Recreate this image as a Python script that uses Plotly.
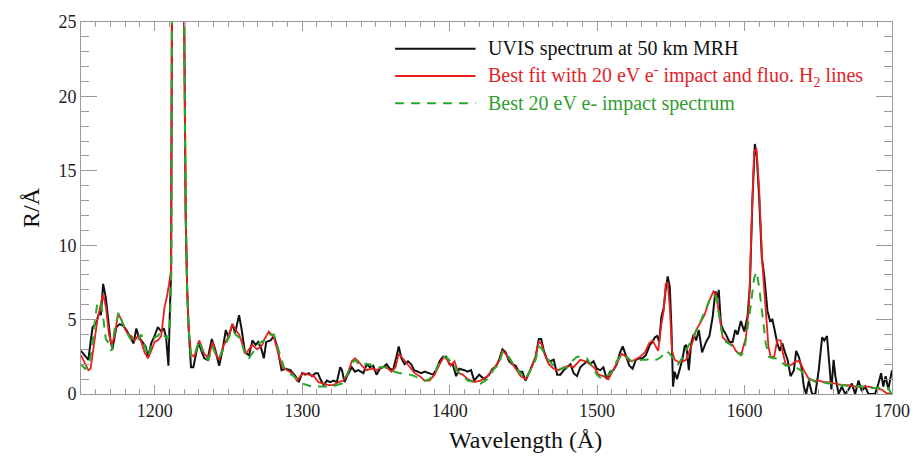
import plotly.graph_objects as go

# ---------------- data ----------------
uvis_wl = [1150, 1152.7, 1155, 1156.5, 1157.9, 1160, 1162.4, 1163.5, 1165, 1166.8, 1168.4, 1170, 1171.3, 1174,
           1176.3, 1178.5, 1180.8, 1183, 1185.7, 1187.5, 1189.3, 1191.6, 1193.8, 1195.6, 1197.6, 1199.9, 1202.1,
           1204.4, 1206.2, 1207.7, 1209.3, 1210.4, 1211.1, 1211.8, 1215.7, 1219.6, 1221, 1222, 1223, 1224.6,
           1226.2, 1228, 1229.8, 1231.3, 1233.6, 1235.8, 1238.7, 1241, 1243.7, 1245.9, 1248.2, 1250, 1252.7,
           1254.5, 1257.2, 1259, 1261.2, 1264, 1266.2, 1268.4, 1270.2, 1272.4, 1274, 1275.6, 1278.6, 1280.8,
           1283, 1286, 1288.7, 1292, 1295.4, 1297.7, 1300, 1302.2, 1304.4, 1306.7, 1308.9, 1310.7, 1312.3,
           1314.6, 1316.8, 1319, 1321.3, 1323.5, 1325.8, 1327, 1328.7, 1330.9, 1333.6, 1335.8, 1338.1, 1341.5,
           1343.7, 1346, 1348.2, 1350.4, 1352.7, 1354.9, 1357.2, 1359.4, 1361.6, 1363.9, 1365.5, 1367.3, 1369.5,
           1371.8, 1374, 1375.9, 1378.1, 1380.8, 1383, 1385.7, 1388.7, 1390.9, 1393.2, 1395.4, 1397.7, 1399.9,
           1402.1, 1404.4, 1406.6, 1410, 1412.2, 1414.5, 1416.7, 1420, 1423.4, 1426.8, 1429, 1431.3, 1433.5,
           1435.8, 1438, 1440.3, 1442.5, 1444.8, 1447, 1449.3, 1451.5, 1453.8, 1456, 1458.3, 1460.5, 1462.1,
           1463.9, 1466.1, 1468.4, 1470.6, 1472.9, 1475.1, 1477.4, 1479.6, 1481.9, 1484.1, 1486.4, 1488.6,
           1490.8, 1493.1, 1495.3, 1497.6, 1499.8, 1502.1, 1504.3, 1506.5, 1508.8, 1511, 1513.3, 1515.6, 1517.4,
           1519.6, 1521.9, 1524.1, 1526.3, 1528.6, 1530.8, 1533, 1534.6, 1535.8, 1537.6, 1539.1, 1540.7, 1542.1,
           1543.6, 1545.2, 1546.5, 1547.9, 1549.3, 1550.4, 1551.5, 1552.6, 1554.2, 1556, 1557.8, 1559.4, 1560.5,
           1562.2, 1563.8, 1565.4, 1567.2, 1569, 1571.2, 1573.9, 1576.2, 1578.4, 1580.2, 1581.8, 1582.5, 1584,
           1585.6, 1587.4, 1589.7, 1591.9, 1593.7, 1595.3, 1597.5, 1599.8, 1602, 1603.6, 1605.4, 1607, 1608.3,
           1609.9, 1611.7, 1613.5, 1615.5, 1617.3, 1618.9, 1620.4, 1622.2, 1624, 1625.6, 1627.4, 1629.2, 1631.2,
           1633.5, 1635, 1636.8, 1638.6, 1640.2, 1641.8, 1643.6, 1645.8, 1648, 1650.3, 1652.6, 1654.1, 1655.9,
           1657.5, 1658.9, 1660.4, 1661.6, 1663.8, 1666, 1668.2, 1670.5, 1672.8, 1675, 1677.3, 1679.5, 1681.8,
           1684, 1686.3, 1688.5, 1690.8, 1692.6, 1694.1, 1695.7, 1697.5, 1699.3, 1700]
uvis_r = [2.9, 2.6, 2.3, 3.5, 4.5, 4.7, 5.5, 5.3, 7.4, 6.5, 4.9, 3.6, 3.0, 4.5,
          4.7, 4.6, 4.3, 3.9, 3.4, 4.4, 3.8, 3.5, 3.2, 2.5, 3.4, 3.9, 4.5,
          4.2, 4.4, 3.8, 1.9, 6.0, 8.3, 30, 150, 30, 12, 7, 4.4, 1.8,
          1.8, 2.7, 3.5, 3.0, 2.4, 2.3, 3.7, 3.0, 1.9, 2.9, 4.3, 3.8, 4.7,
          4.1, 5.3, 4.3, 2.8, 2.6, 3.6, 3.3, 3.5, 3.0, 2.4, 3.5, 3.6, 3.9,
          3.2, 1.6, 1.7, 1.6, 1.2, 0.8, 1.4, 1.3, 1.4, 1.2, 1.4, 1.4, 1.0,
          0.6, 0.9, 0.8, 0.9, 0.8, 1.8, 1.6, 0.8, 1.3, 1.8, 1.5, 1.6, 1.4,
          2.0, 1.8, 1.9, 1.3, 1.7, 1.8, 2.0, 1.7, 1.6, 2.5, 3.2, 2.4, 2.0,
          2.2, 2.0, 1.6, 1.5, 1.4, 1.5, 1.4, 1.3, 1.6, 2.2, 2.5, 2.5, 2.0,
          2.0, 1.2, 1.7, 1.6, 1.5, 1.6, 0.9, 1.3, 1.0, 1.3, 1.7, 1.8, 2.3,
          3.0, 2.8, 2.2, 2.0, 1.9, 1.5, 1.5, 0.9, 1.4, 1.9, 2.5, 3.7, 3.7,
          2.9, 2.3, 2.2, 2.3, 1.3, 1.3, 1.6, 1.8, 2.0, 1.4, 1.2, 1.8,
          2.0, 2.2, 2.0, 2.2, 1.7, 1.6, 1.8, 1.0, 1.5, 1.6, 2.0, 2.8, 3.2,
          2.6, 1.9, 1.7, 2.3, 2.4, 2.4, 2.6, 3.0, 3.3, 3.5, 3.8, 3.9, 3.5,
          5.2, 5.8, 7.0, 7.9, 7.2, 4.5, 0.5, 1.5, 1.0, 1.7, 2.3, 3.2, 3.3,
          1.6, 3.4, 4.0, 3.6, 4.3, 2.8, 3.5, 3.9, 5.2, 6.9, 6.5, 7.0, 4.7,
          4.3, 4.0, 3.5, 3.5, 4.3, 4.0, 4.9, 4.2, 5.2, 7.2, 13.2, 16.8, 16.0,
          13.2, 9.2, 7.8, 5.6, 4.9, 5.0, 4.3, 3.4, 2.9, 3.4, 2.8, 2.3, 1.2,
          1.6, 2.9, 2.5, 1.8, 0.5, 0.0, 0.9, 0.0, 0.0, 1.6, 3.8, 3.6, 3.9,
          2.0, 0.3, 2.3, 1.2, 0.0, 0.5, 0.0, 0.3, 0.7, 0.0, 0.9, 0.2, 0.5,
          0.0, 0.0, 0.0, 0.7, 1.4, 0.5, 1.2, 0.3, 1.4, 1.6]

fit_wl = [1150, 1152.7, 1155, 1156.5, 1158.8, 1161, 1163.3, 1165, 1166.8, 1169, 1170.9, 1172.9, 1175.2, 1177.4,
          1179.7, 1181.9, 1184.1, 1186.4, 1188.6, 1190.9, 1193.1, 1195.4, 1197.6, 1199.9, 1202.1, 1204.4, 1206.6,
          1208.4, 1210, 1211.1, 1211.8, 1215.7, 1219.6, 1221, 1222, 1223, 1224.6, 1226.8, 1230.2, 1233.6, 1236.5,
          1239.2, 1241.4, 1243.7, 1246.4, 1249.3, 1252.7, 1254.9, 1257.2, 1259.4, 1261.7, 1263.9, 1266.2, 1269.5,
          1272.9, 1274.5, 1277.4, 1280.8, 1284.2, 1286.4, 1289.8, 1293.2, 1296.5, 1298.8, 1301, 1304.4, 1307.8,
          1311.1, 1314.5, 1317.9, 1321.3, 1324.6, 1328, 1330.9, 1333.6, 1335.9, 1338.1, 1340.4, 1343.7, 1347.1,
          1350.5, 1353.8, 1357.2, 1360.6, 1363.3, 1365.5, 1367.3, 1369.6, 1373, 1376.3, 1379.7, 1383, 1386.4,
          1389.8, 1393.2, 1396.1, 1398.4, 1400.6, 1403.3, 1406, 1408.9, 1412.3, 1416.7, 1421, 1425.7, 1430.2,
          1433.5, 1435.8, 1438, 1441.4, 1444.8, 1448.2, 1451.5, 1454.9, 1458.3, 1460.5, 1462.1, 1464.3, 1467.2,
          1470.6, 1474, 1477.4, 1480.7, 1484.1, 1488.6, 1492, 1495.3, 1498.7, 1500.9, 1504.3, 1507.7, 1511,
          1514.4, 1516.7, 1519.6, 1522.3, 1525.7, 1529.1, 1532.4, 1535.3, 1537.6, 1539.1, 1541.4, 1543.6, 1545.2,
          1546.5, 1547.9, 1549.3, 1550.8, 1552.6, 1556, 1560.4, 1563.8, 1567.2, 1569.9, 1572.8, 1576.2, 1578.9,
          1580.7, 1582.9, 1585.2, 1587.4, 1589.7, 1591.9, 1594.1, 1596.4, 1598.2, 1600.9, 1603.1, 1604.9, 1606.5,
          1608.1, 1609.9, 1612.1, 1614.4, 1616.2, 1617.7, 1620, 1622.2, 1624.5, 1626.1, 1627.9, 1630.1, 1632.4,
          1634.6, 1637.3, 1640.2, 1643.6, 1647, 1650.3, 1653.7, 1657, 1661.6, 1666, 1670.5, 1675, 1679.5, 1684,
          1688.5, 1693, 1696.4, 1698.6, 1700]
fit_r = [2.6, 2.0, 1.6, 1.7, 3.2, 4.9, 6.0, 6.7, 5.9, 4.0, 3.3, 4.0, 5.4, 5.0,
         4.4, 4.0, 3.9, 3.6, 3.9, 3.5, 2.8, 2.4, 2.9, 3.5, 3.6, 3.9, 5.8,
         6.6, 7.6, 8.3, 30, 150, 30, 12, 7, 4.5, 2.7, 2.5, 3.6, 2.7, 2.4,
         3.5, 2.7, 2.3, 3.2, 3.7, 4.7, 4.3, 4.0, 3.3, 2.7, 3.0, 3.3, 3.0,
         3.3, 3.7, 4.2, 3.8, 2.5, 1.8, 1.6, 1.4, 0.9, 1.2, 1.4, 1.3, 1.2,
         0.8, 0.7, 0.6, 0.6, 0.8, 0.9, 1.4, 2.2, 2.4, 2.2, 1.9, 1.6, 1.7,
         1.6, 1.8, 1.8, 1.5, 1.8, 2.7, 2.5, 2.2, 1.8, 1.4, 1.2, 0.9, 0.9,
         1.3, 2.0, 2.5, 2.3, 1.9, 2.2, 1.4, 1.3, 1.0, 0.8, 0.9, 1.2, 1.8,
         2.2, 2.9, 2.7, 2.2, 1.7, 1.2, 1.0, 1.6, 2.5, 3.5, 3.4, 2.7, 2.0,
         1.7, 1.6, 1.8, 1.9, 1.8, 2.3, 2.2, 2.0, 1.7, 1.3, 1.2, 1.0, 1.6,
         2.3, 2.7, 2.5, 2.2, 2.3, 2.5, 2.8, 3.4, 3.6, 3.3, 2.9, 4.7, 5.6,
         7.4, 7.5, 5.8, 2.9, 2.3, 2.1, 2.3, 3.2, 4.3, 4.8, 5.3, 6.3, 6.9,
         6.7, 5.2, 3.8, 3.6, 3.4, 3.3, 2.9, 2.7, 2.8, 3.8, 6.0, 11.8, 16.3,
         16.5, 13.8, 8.7, 5.2, 3.2, 2.5, 2.5, 3.6, 3.6, 2.7, 2.0, 1.9, 2.0,
         2.2, 2.2, 1.6, 1.0, 0.9, 0.9, 0.8, 0.8, 0.7, 0.6, 0.6, 0.5, 0.5, 0.5,
         0.4, 0.3, 0.05, 0.0, 0.0]

eimp_wl = [1150, 1152.7, 1155, 1157.2, 1159.4, 1161.2, 1163.3, 1165, 1166.8, 1169, 1170.7, 1172.9, 1175.6,
           1178.1, 1180.8, 1183.5, 1186.4, 1188.6, 1190.9, 1193.1, 1195.4, 1197.6, 1199.9, 1202.1, 1204.4,
           1206.6, 1208.9, 1210.4, 1211.3, 1211.8, 1215.7, 1219.6, 1221, 1222, 1223, 1224.6, 1226.8, 1230.2,
           1233.6, 1236.5, 1239.2, 1241.4, 1243.7, 1246.4, 1249.3, 1252.7, 1254.9, 1257.2, 1259.4, 1261.7,
           1263.9, 1267.3, 1270.6, 1274, 1277.4, 1280.8, 1284.2, 1287.6, 1290.9, 1294.3, 1297.7, 1300, 1303.3,
           1306.7, 1310, 1313.4, 1316.8, 1320.1, 1323.5, 1326.9, 1330.2, 1333.2, 1335.9, 1339.2, 1342.6, 1346,
           1349.3, 1352.7, 1356.1, 1359.5, 1362.8, 1366.2, 1369.6, 1373, 1376.3, 1379.7, 1383, 1386.4, 1389.8,
           1393.2, 1396.1, 1398.8, 1402.2, 1405.5, 1408.9, 1412.3, 1416.7, 1421, 1425.7, 1430.2, 1433.5, 1435.8,
           1438, 1441.4, 1444.8, 1448.2, 1451.5, 1454.9, 1458.3, 1460.5, 1462.7, 1466.1, 1469.5, 1472.9, 1476.3,
           1479.6, 1482.9, 1486.4, 1489.7, 1493.1, 1496.4, 1499.8, 1503.2, 1506.5, 1509.9, 1513.3, 1516.7, 1520,
           1523.4, 1526.8, 1530.2, 1533.5, 1536.9, 1540.3, 1543.6, 1547, 1549.3, 1551.5, 1554.9, 1558.2, 1562.7,
           1566.1, 1569.4, 1572.8, 1576.2, 1578.9, 1580.7, 1582.9, 1585.2, 1587.4, 1590.8, 1594.1, 1597.5, 1599.8,
           1602, 1604.3, 1606.5, 1608.1, 1609.9, 1612.1, 1614.4, 1616.6, 1618.9, 1621.1, 1624.5, 1627.9, 1631.2,
           1634.6, 1638, 1641.3, 1644.7, 1648.1, 1652.6, 1657, 1661.6, 1666, 1672.8, 1679.5, 1686.3, 1693,
           1697.5, 1699.3, 1700]
eimp_r = [2.0, 1.7, 1.8, 2.9, 4.9, 6.2, 6.2, 5.2, 3.7, 3.4, 2.9, 4.4, 5.5,
          4.8, 4.2, 3.7, 3.8, 3.6, 4.0, 3.3, 2.5, 3.2, 3.8, 3.9, 4.2,
          3.9, 3.7, 4.7, 8.3, 30, 150, 30, 12, 7, 4.3, 2.5, 2.6, 3.6,
          2.5, 2.3, 3.2, 2.6, 2.4, 3.0, 3.6, 4.3, 4.0, 3.8, 3.3, 2.5,
          2.4, 2.9, 3.4, 3.6, 4.0, 4.0, 2.9, 1.8, 1.4, 1.2, 0.9, 0.7, 0.6,
          0.5, 0.5, 0.5, 0.5, 0.5, 0.6, 0.7, 1.2, 2.0, 2.3, 1.9, 2.0, 2.0,
          1.7, 1.8, 1.8, 1.6, 1.5, 1.4, 1.4, 1.3, 1.2, 1.0, 0.9, 1.0, 1.4,
          2.2, 2.5, 2.4, 2.0, 1.5, 1.2, 0.9, 0.8, 0.7, 1.0, 1.7, 2.0, 2.8,
          2.8, 2.3, 1.7, 1.4, 1.0, 1.6, 2.3, 3.2, 3.0, 2.4, 2.0, 1.7, 1.7,
          1.8, 2.2, 2.5, 2.5, 2.4, 1.9, 1.3, 1.0, 1.2, 1.5, 2.2, 2.7, 2.5,
          2.2, 2.2, 2.3, 2.3, 2.4, 2.3, 2.5, 2.9, 2.7, 2.4, 2.0, 2.5, 3.4,
          4.0, 4.7, 5.5, 6.3, 6.7, 6.5, 5.2, 3.8, 3.5, 3.3, 2.9, 2.6, 2.9,
          4.3, 6.0, 7.8, 8.2, 7.2, 5.2, 3.4, 2.5, 2.4, 2.4, 2.2, 1.9, 1.9,
          1.8, 1.6, 1.2, 1.0, 0.8, 0.8, 0.7, 0.7, 0.6, 0.5, 0.5, 0.4, 0.4,
          0.4, 0.05, 0.0]

x_ticks = [1200, 1300, 1400, 1500, 1600, 1700]
y_ticks = [0, 5, 10, 15, 20, 25]

legend_labels = ["UVIS spectrum at 50 km MRH",
                 "Best fit with 20 eV e<sup>-</sup> impact and fluo. H<sub>2</sub> lines",
                 "Best 20 eV e- impact spectrum"]

# ---------------- styles ----------------
FONT = "Liberation Serif"
BLACK = "#111111"
RED = "#e8201e"
GREEN = "#2aa82a"
AXC = "#9a9a9a"

fig = go.Figure()
fig.add_trace(go.Scatter(x=uvis_wl, y=uvis_r, mode="lines", name=legend_labels[0],
                         line=dict(color=BLACK, width=2)))
fig.add_trace(go.Scatter(x=fit_wl, y=fit_r, mode="lines", name=legend_labels[1],
                         line=dict(color=RED, width=1.8)))
fig.add_trace(go.Scatter(x=eimp_wl, y=eimp_r, mode="lines", name=legend_labels[2],
                         line=dict(color=GREEN, width=2, dash="9px,7px")))

W, H = 922, 459
ml, mr, mt, mb = 81, 25, 19, 65
pw, ph = W - ml - mr, H - mt - mb

def px2paper_x(px):
    return (px - ml) / pw

def py2paper_y(py):
    return (H - mb - py) / ph

# hand-made legend (long sample lines as in the reference)
colors = [BLACK, RED, GREEN]
dashes = ["solid", "solid", "9px,7px"]
tcolors = ["#111111", "#e3232a", "#2f9f2f"]
rows = [46, 73.5, 101]
for lab, c, d, tc, ry in zip(legend_labels, colors, dashes, tcolors, rows):
    fig.add_shape(type="line", xref="paper", yref="paper",
                  x0=px2paper_x(397), x1=px2paper_x(478), y0=py2paper_y(ry), y1=py2paper_y(ry),
                  line=dict(color=c, width=2, dash=d))
    fig.add_annotation(xref="paper", yref="paper", x=px2paper_x(488), y=py2paper_y(ry),
                       text=lab, showarrow=False, xanchor="left", yanchor="middle",
                       font=dict(family=FONT, size=20, color=tc))

fig.add_annotation(xref="paper", yref="paper", x=px2paper_x(528), y=py2paper_y(440),
                   text="Wavelength (Å)", showarrow=False, xanchor="center", yanchor="middle",
                   font=dict(family=FONT, size=24, color="#111111"))

fig.update_layout(
    width=W, height=H,
    margin=dict(l=ml, r=mr, t=mt, b=mb),
    paper_bgcolor="white", plot_bgcolor="white",
    showlegend=False,
    font=dict(family=FONT, color="#222222"),
)
fig.update_xaxes(range=[1150, 1700], tickvals=x_ticks, showgrid=False, zeroline=False,
                 showline=True, linecolor=AXC, linewidth=1, mirror="allticks",
                 ticks="inside", ticklen=9, tickwidth=1, tickcolor=AXC,
                 tickfont=dict(family=FONT, size=18, color="#222222"),
                 minor=dict(dtick=10, ticks="inside", ticklen=5, tickcolor=AXC, showgrid=False))
fig.update_yaxes(range=[0, 25], tickvals=y_ticks, showgrid=False, zeroline=False,
                 showline=True, linecolor=AXC, linewidth=1, mirror="allticks",
                 ticks="inside", ticklen=16, tickwidth=1, tickcolor=AXC,
                 tickfont=dict(family=FONT, size=18, color="#222222"),
                 title=dict(text="R/Å", font=dict(family=FONT, size=24, color="#111111"), standoff=12),
                 minor=dict(dtick=1, ticks="inside", ticklen=8, tickcolor=AXC, showgrid=False))

fig.write_html("out.html")
